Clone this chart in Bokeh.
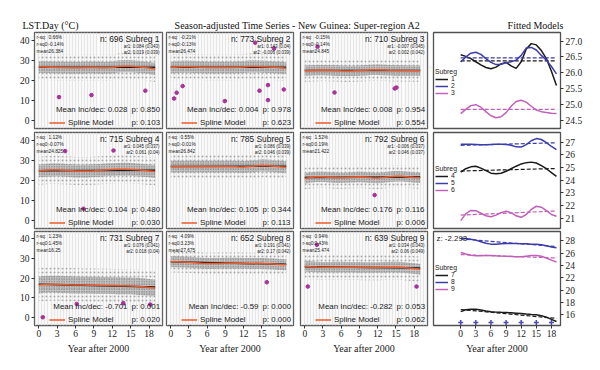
from bokeh.plotting import figure
from bokeh.layouts import column, row
from bokeh.models import (Range1d, FixedTicker, SingleIntervalTicker, Label, Legend, LegendItem,
                          PrintfTickFormatter, LinearAxis, Grid)
from bokeh.embed import file_html
from bokeh.resources import INLINE

# ---------------- data ----------------
years = list(range(20))
subregs = [1, 2, 3, 4, 5, 6, 7, 8, 9]
n_obs = [696, 773, 710, 715, 785, 792, 731, 652, 639]
rsq = ["0.66%", "-0.21%", "-0.15%", "1.12%", "0.55%", "1.52%", "1.23%", "4.09%", "0.94%"]
rsq0 = ["-0.14%", "-0.13%", "-0.14%", "-0.07%", "-0.01%", "0.19%", "1.45%", "3.23%", "0.43%"]
means = ["26.384", "26.474", "24.845", "24.825", "26.842", "21.422", "16.25", "27.675", "25.474"]
ar1 = ["0.084 (0.043)", "0.143 (0.04)", "-0.007 (0.045)", "0.045 (0.037)", "0.086 (0.039)",
       "-0.006 (0.037)", "0.076 (0.041)", "0.191 (0.041)", "0.034 (0.043)"]
ar2 = ["0.019 (0.039)", "-0.006 (0.039)", "0.002 (0.042)", "0.061 (0.04)", "0.046 (0.039)",
       "0.046 (0.037)", "0.018 (0.04)", "0.17 (0.042)", "0.06 (0.049)"]
mean_inc = ["0.028", "0.004", "0.008", "0.104", "0.105", "0.176", "-0.701", "-0.59", "-0.282"]
p_mean = ["0.850", "0.978", "0.954", "0.480", "0.344", "0.116", "0.001", "0.000", "0.053"]
p_spline = ["0.103", "0.623", "0.554", "0.030", "0.113", "0.006", "0.020", "0.000", "0.062"]

spl1 = [26.57, 26.52, 26.45, 26.35, 26.25, 26.17, 26.13, 26.18, 26.28, 26.33, 26.22, 26.14, 26.35, 26.75, 26.92, 26.88, 26.70, 26.45, 26.05, 25.60]
spl2 = [26.34, 26.50, 26.62, 26.65, 26.58, 26.45, 26.33, 26.26, 26.27, 26.32, 26.35, 26.40, 26.55, 26.78, 26.80, 26.72, 26.55, 26.40, 26.20, 25.97]
spl3 = [24.72, 24.85, 24.97, 25.00, 24.92, 24.78, 24.65, 24.59, 24.62, 24.75, 24.95, 25.10, 25.14, 25.08, 24.95, 24.83, 24.78, 24.75, 24.73, 24.72]
spl4 = [24.63, 24.90, 25.05, 25.10, 24.95, 24.75, 24.55, 24.50, 24.55, 24.70, 24.90, 25.10, 25.28, 25.38, 25.42, 25.35, 25.15, 24.90, 24.60, 24.30]
spl5 = [26.82, 26.83, 26.82, 26.80, 26.78, 26.78, 26.80, 26.82, 26.82, 26.80, 26.75, 26.62, 26.60, 26.80, 27.10, 27.27, 27.20, 26.95, 26.65, 26.40]
spl6 = [20.82, 21.35, 21.62, 21.60, 21.40, 21.20, 21.13, 21.25, 21.45, 21.55, 21.45, 21.20, 21.08, 21.30, 21.70, 21.95, 21.88, 21.60, 21.30, 21.16]
spl7 = [16.50, 16.80, 16.90, 16.88, 16.75, 16.60, 16.50, 16.42, 16.38, 16.35, 16.30, 16.25, 16.20, 16.12, 16.05, 16.00, 15.85, 15.60, 15.25, 14.90]
spl8 = [28.40, 28.35, 28.25, 28.10, 27.85, 27.60, 27.45, 27.45, 27.52, 27.55, 27.55, 27.55, 27.52, 27.50, 27.45, 27.42, 27.35, 27.20, 27.00, 26.85]
spl9 = [26.10, 25.85, 25.65, 25.55, 25.55, 25.60, 25.60, 25.55, 25.52, 25.50, 25.45, 25.40, 25.40, 25.50, 25.60, 25.62, 25.50, 25.20, 24.85, 24.55]
splines = [spl1, spl2, spl3, spl4, spl5, spl6, spl7, spl8, spl9]

trend_start = [26.38, 26.47, 24.85, 24.72, 26.74, 21.25, 16.85, 28.30, 25.75]
trend_end = [26.38, 26.47, 24.85, 24.92, 26.94, 21.58, 15.40, 27.05, 25.20]

core_half = [3.0, 3.0, 2.6, 3.2, 3.0, 2.6, 4.3, 2.8, 2.7]
sparse_half = [6.5, 6.5, 5.5, 7.0, 6.0, 5.5, 8.5, 5.5, 6.5]

out_x = [[3.3, 8.6, 17.4],
         [0.55, 0.97, 1.96, 8.9, 13.9, 14.6, 16.0, 16.0, 17.0, 18.6],
         [2.1, 4.9, 14.8, 15.1],
         [4.3, 7.3, 12.2],
         [],
         [11.5],
         [0.65, 6.2, 13.8, 18.2],
         [15.8],
         [0.5, 2.0, 18.4]]
out_y = [[11.5, 12.5, 14.7],
         [10.8, 13.7, 17.0, 9.5, 38.7, 14.7, 17.5, 10.0, 35.8, 15.3],
         [36.7, 13.8, 15.8, 16.3],
         [34.5, 5.7, 34.8],
         [],
         [12.5],
         [0.0, 6.8, 7.2, 6.5],
         [17.9],
         [15.7, 37.0, 15.7]]

knots_x = [0, 3, 6, 9, 12, 15, 18]
knots_y = [14.75] * 7
z_text = "z: -2.293"

scatter_yticks = [0, 10, 20, 30, 40]
year_ticks = [0, 3, 6, 9, 12, 15, 18]
fit_ranges = [(24.25, 27.27), (20.2, 27.75), (14.25, 29.5)]
fit_ticks = [[24.5, 25.0, 25.5, 26.0, 26.5, 27.0], [21, 22, 23, 24, 25, 26, 27], [16, 18, 20, 22, 24, 26, 28]]
fit_fmt = ["%.1f", "%d", "%d"]

# ---------------- style ----------------
SANS = "Liberation Sans"
SERIF = "Liberation Serif"
SPLINE_COL = "#ee5a2a"
OUT_COL = "#a8329a"
FIT_COLS = ["#1a1a1a", "#3c3caa", "#c060b8"]

SX = (-0.7, 20.2)
SY = (-4.2, 43.8)
FX = (-5.4, 19.8)

col_fw = [128, 127, 127, 127]
col_bl = [34, 2, 5, 3]
col_br = [2, 2, 3, 30]
row_fh = [96, 96, 94]
row_bt = [1, 2, 1]
row_bb = [2, 2, 35]
fit_leg_y = [32, 35, 33]


def base_fig(fw, fh, xr, yr, bl, br, bt, bb):
    p = figure(frame_width=fw, frame_height=fh, x_range=Range1d(*xr), y_range=Range1d(*yr),
               toolbar_location=None, output_backend="svg",
               x_axis_location=None, y_axis_location=None,
               min_border_left=bl, min_border_right=br, min_border_top=bt, min_border_bottom=bb)
    p.grid.visible = False
    p.outline_line_color = "#505050"
    p.outline_line_width = 1.3
    p.background_fill_color = "white"
    p.border_fill_color = "white"
    return p


def style_axis(ax):
    ax.axis_line_color = None
    ax.major_tick_in = 0
    ax.major_tick_out = 3
    ax.minor_tick_line_color = None
    ax.major_tick_line_color = "#333333"
    ax.major_label_text_font = SERIF
    ax.major_label_text_font_size = "9.5px"
    ax.major_label_text_color = "#222222"
    ax.major_label_standoff = 2


def add_bottom_axis(p):
    ax = LinearAxis(ticker=FixedTicker(ticks=year_ticks, minor_ticks=[]))
    style_axis(ax)
    ax.major_label_standoff = 1
    ax.axis_label = "Year after 2000"
    ax.axis_label_text_font = SERIF
    ax.axis_label_text_font_size = "10px"
    ax.axis_label_text_font_style = "normal"
    ax.axis_label_text_color = "#222222"
    ax.axis_label_standoff = 3
    p.add_layout(ax, "below")


def put(p, fw, fh, xr, yr, dx, dy, text, size, align="left", from_bottom=False):
    x = xr[0] + dx * (xr[1] - xr[0]) / fw
    if from_bottom:
        y = yr[0] + dy * (yr[1] - yr[0]) / fh
    else:
        y = yr[1] - dy * (yr[1] - yr[0]) / fh
    p.add_layout(Label(x=x, y=y, text=text, text_font=SANS, text_font_size=size,
                       text_align=align, text_baseline="middle", text_color="#222222"))


def scatter_panel(i, r, c):
    fw, fh = col_fw[c], row_fh[r]
    p = base_fig(fw, fh, SX, SY, col_bl[c], col_br[c], row_bt[r], row_bb[r])
    p.add_layout(Grid(dimension=0, ticker=SingleIntervalTicker(interval=0.5, num_minor_ticks=0),
                      grid_line_color="#e6e6e6", grid_line_width=1.5))
    s = splines[i]
    p.varea(x=years, y1=[v - sparse_half[i] for v in s], y2=[v + sparse_half[i] for v in s],
            fill_alpha=0, hatch_pattern="dot", hatch_color="#a8a8a8", hatch_scale=4, hatch_weight=0.8)
    p.varea(x=years, y1=[v - core_half[i] for v in s], y2=[v + core_half[i] for v in s],
            fill_color="#b8b8b8", fill_alpha=0.8, hatch_pattern="dot", hatch_color="#666666",
            hatch_scale=2.5, hatch_weight=1)
    p.line([years[0], years[-1]], [trend_start[i], trend_end[i]], line_color="#1a1a1a", line_width=1.5)
    sr = p.line(years, s, line_color=SPLINE_COL, line_width=1.5)
    if out_x[i]:
        p.scatter(out_x[i], out_y[i], size=3.6, color=OUT_COL, marker="circle")
    # stats texts
    put(p, fw, fh, SX, SY, 2, 5, "r-sq:", "4.8px")
    put(p, fw, fh, SX, SY, 14, 5, rsq[i], "4.8px")
    put(p, fw, fh, SX, SY, 2, 11.5, "r-sq0:", "4.8px")
    put(p, fw, fh, SX, SY, 14, 11.5, rsq0[i], "4.8px")
    put(p, fw, fh, SX, SY, 2, 18.5, "mean:", "4.8px")
    put(p, fw, fh, SX, SY, 14, 18.5, means[i], "4.8px")
    put(p, fw, fh, SX, SY, fw - 3, 6.5, "n: %d Subreg %d" % (n_obs[i], subregs[i]), "8.4px", "right")
    put(p, fw, fh, SX, SY, fw - 3, 14, "ar1: " + ar1[i], "4.5px", "right")
    put(p, fw, fh, SX, SY, fw - 3, 20, "ar2: " + ar2[i], "4.5px", "right")
    put(p, fw, fh, SX, SY, fw - 35, 19.5, "Mean Inc/dec: " + mean_inc[i], "7.9px", "right", True)
    put(p, fw, fh, SX, SY, fw - 31, 19.5, "p: " + p_mean[i], "7.9px", "left", True)
    put(p, fw, fh, SX, SY, fw - 31, 6, "p: " + p_spline[i], "7.9px", "left", True)
    leg = Legend(items=[LegendItem(label="Spline Model", renderers=[sr])], location=(15, 1),
                 background_fill_alpha=0, border_line_alpha=0, padding=0, margin=0,
                 glyph_width=16, glyph_height=9, label_height=9, label_standoff=3,
                 label_text_font=SANS, label_text_font_size="7.9px", label_text_color="#222222")
    p.add_layout(leg)
    if c == 0:
        ax = LinearAxis(ticker=FixedTicker(ticks=scatter_yticks, minor_ticks=[]))
        style_axis(ax)
        p.add_layout(ax, "left")
    if r == 2:
        add_bottom_axis(p)
    return p


def fitted_panel(r):
    c = 3
    fw, fh = col_fw[c], row_fh[r]
    yr = fit_ranges[r]
    p = base_fig(fw, fh, FX, yr, col_bl[c], col_br[c], row_bt[r], row_bb[r])
    items = []
    for k in range(3):
        i = r * 3 + k
        col = FIT_COLS[k]
        lr = p.line(years, splines[i], line_color=col, line_width=1.5)
        p.line([years[0], years[-1]], [trend_start[i], trend_end[i]], line_color=col,
               line_width=1.2, line_dash="4 2")
        items.append(LegendItem(label=str(subregs[i]), renderers=[lr]))
    leg = Legend(items=items, title="Subreg", location=(2, fit_leg_y[r]),
                 background_fill_alpha=0, border_line_alpha=0, padding=0, margin=0, spacing=0,
                 glyph_width=13, glyph_height=6, label_height=6, label_standoff=3,
                 label_text_font=SANS, label_text_font_size="6.8px", label_text_color="#222222",
                 title_text_font=SANS, title_text_font_size="6.8px", title_text_font_style="normal",
                 title_text_color="#222222", title_standoff=0)
    p.add_layout(leg)
    ax = LinearAxis(ticker=FixedTicker(ticks=fit_ticks[r], minor_ticks=[]),
                    formatter=PrintfTickFormatter(format=fit_fmt[r]))
    style_axis(ax)
    p.add_layout(ax, "right")
    if r == 2:
        p.scatter(knots_x, knots_y, marker="cross", size=5, line_color="#4a4ab0", line_width=1.5)
        put(p, fw, fh, FX, yr, 3, 7, z_text, "7.9px")
        add_bottom_axis(p)
    return p


# header
hdr = figure(frame_width=598, frame_height=31, x_range=Range1d(0, 598), y_range=Range1d(0, 31),
             toolbar_location=None, output_backend="svg", x_axis_location=None, y_axis_location=None,
             min_border_left=0, min_border_right=0, min_border_top=0, min_border_bottom=0)
hdr.grid.visible = False
hdr.outline_line_color = None
for tx, ty, txt, al in [(22, 6, "LST.Day (°C)", "left"),
                        (297, 6, "Season-adjusted Time Series - New Guinea: Super-region A2", "center"),
                        (535, 6, "Fitted Models", "center")]:
    hdr.add_layout(Label(x=tx, y=ty, text=txt, text_font=SERIF, text_font_size="10px",
                         text_align=al, text_baseline="middle", text_color="#111111"))

rows = [hdr]
for r in range(3):
    figs = [scatter_panel(r * 3 + c, r, c) for c in range(3)]
    figs.append(fitted_panel(r))
    rows.append(row(*figs, spacing=0))

layout = column(*rows, spacing=0)
open("out.html", "w").write(file_html(layout, INLINE))
